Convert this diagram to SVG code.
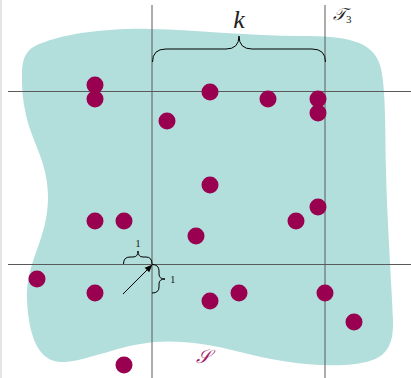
<svg xmlns="http://www.w3.org/2000/svg" width="411" height="378" viewBox="0 0 411 378">
<defs>
<style>
.grid{stroke:#5a5a5a;stroke-width:1;fill:none}
.dot{fill:#990050}
.brace{stroke:#000;stroke-width:1;fill:none}
.lbl{font-family:"Liberation Serif","DejaVu Serif",serif;fill:#222}
</style>
<marker id="ah" viewBox="0 0 10 10" refX="9" refY="5" markerWidth="8" markerHeight="8" markerUnits="userSpaceOnUse" orient="auto">
<path d="M0,1 L10,5 L0,9 Z" fill="#000"/>
</marker>
</defs>
<rect width="411" height="378" fill="#fff"/>
<line x1="1" y1="0" x2="1" y2="378" stroke="#ddd" stroke-width="1.5"/>
<g id="region-S">
<path d="M22,75 C22,55 28,47 45,42 C70,33 110,28 150,29 C200,30 250,36 300,36 C345,36 372,40 380,65 C386,85 385,130 386,170 C387,220 392,290 393,320 C394,355 380,362 345,365 C310,367 270,360 240,352 C210,344 180,340 155,342 C120,345 90,360 65,362 C40,364 29,340 27,300 C25,262 48,240 48,197 C48,160 30,140 25,110 C22,95 22,85 22,75 Z" fill="#b2dfdb"/>
</g>
<g id="connectors">
<line class="grid" x1="152" y1="5" x2="152" y2="378"/>
<line class="grid" x1="325" y1="5" x2="325" y2="378"/>
<line class="grid" x1="8" y1="91.5" x2="411" y2="91.5"/>
<line class="grid" x1="8" y1="264.5" x2="411" y2="264.5"/>
<path class="brace" d="M152.5,62 Q152.5,49 166,49 L226,49 Q239,49 239,36 Q239,49 252,49 L312,49 Q325.5,49 325.5,62"/>
<path class="brace" d="M123.5,264 Q123.5,257 130,257 L133,257 Q138,257 138,251 Q138,257 143,257 L146,257 Q152,257 152,264"/>
<path class="brace" d="M152,264.5 Q159,264.5 159,271 L159,274 Q159,279 165,279 Q159,279 159,284 L159,287 Q159,293 152,293"/>
<line x1="123" y1="294" x2="152" y2="265" stroke="#000" stroke-width="1" marker-end="url(#ah)"/>
</g>
<g id="dots">
<circle class="dot" cx="95" cy="85" r="8.5"/>
<circle class="dot" cx="95" cy="99" r="8.5"/>
<circle class="dot" cx="210" cy="92" r="8.5"/>
<circle class="dot" cx="268" cy="99" r="8.5"/>
<circle class="dot" cx="318" cy="99" r="8.5"/>
<circle class="dot" cx="318" cy="113" r="8.5"/>
<circle class="dot" cx="167" cy="121" r="8.5"/>
<circle class="dot" cx="210" cy="185" r="8.5"/>
<circle class="dot" cx="95" cy="221" r="8.5"/>
<circle class="dot" cx="124" cy="221" r="8.5"/>
<circle class="dot" cx="318" cy="207" r="8.5"/>
<circle class="dot" cx="296" cy="221" r="8.5"/>
<circle class="dot" cx="196" cy="236" r="8.5"/>
<circle class="dot" cx="37" cy="279" r="8.5"/>
<circle class="dot" cx="95" cy="293" r="8.5"/>
<circle class="dot" cx="210" cy="301" r="8.5"/>
<circle class="dot" cx="239" cy="293" r="8.5"/>
<circle class="dot" cx="325" cy="293" r="8.5"/>
<circle class="dot" cx="354" cy="322" r="8.5"/>
<circle class="dot" cx="124" cy="365" r="8.5"/>
</g>
<g id="labels">
<text class="lbl" x="239" y="28" font-size="26" font-style="italic" text-anchor="middle">k</text>
<text class="lbl" x="333" y="20" font-size="17" font-style="italic">𝒯<tspan font-size="11" font-style="normal" dy="3">3</tspan></text>
<text class="lbl" x="138" y="247" font-size="11" text-anchor="middle">1</text>
<text class="lbl" x="170" y="283" font-size="11">1</text>
<text x="203" y="363" font-size="19" font-style="italic" text-anchor="middle" font-family="'DejaVu Serif','Liberation Serif',serif" fill="#a0206a">𝒮</text>
</g>
</svg>
